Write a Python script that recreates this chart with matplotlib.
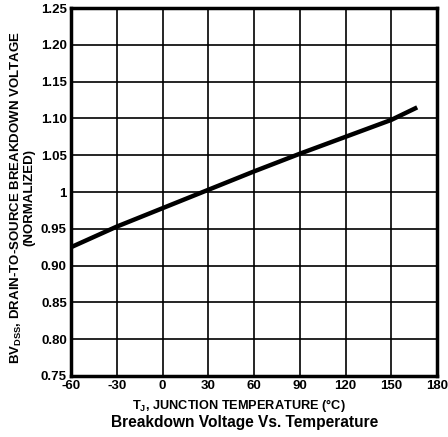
import matplotlib.pyplot as plt
import numpy as np

plt.rcParams['font.family'] = ['Liberation Sans', 'DejaVu Sans']
plt.rcParams['axes.unicode_minus'] = False
plt.rcParams['mathtext.fontset'] = 'custom'
plt.rcParams['mathtext.bf'] = 'Liberation Sans:bold'
plt.rcParams['mathtext.rm'] = 'Liberation Sans'

# curve
temps = [-60, -30, 0, 30, 60, 90, 120, 150, 167]
bv_norm = [0.925, 0.953, 0.978, 1.003, 1.028, 1.052, 1.075, 1.098, 1.115]

x_ticks = [-60, -30, 0, 30, 60, 90, 120, 150, 180]
y_ticks = [0.75, 0.80, 0.85, 0.90, 0.95, 1.0, 1.05, 1.10, 1.15, 1.20, 1.25]
y_labels = ['0.75', '0.80', '0.85', '0.90', '0.95', '1', '1.05', '1.10', '1.15', '1.20', '1.25']

fig = plt.figure(figsize=(4.48, 4.37), dpi=100)
ax = fig.add_axes([0.1585, 0.1396, 0.817, 0.842])

ax.plot(temps, bv_norm, color='black', lw=3.2, solid_capstyle='butt', zorder=3)

ax.set_xlim(-60, 180)
ax.set_ylim(0.75, 1.25)
ax.set_xticks(x_ticks)
ax.set_yticks(y_ticks)
ax.set_yticklabels(y_labels)
ax.grid(True, color='black', lw=1.2)
ax.tick_params(length=0, labelsize=9.5, pad=3)
for lab in ax.get_xticklabels() + ax.get_yticklabels():
    lab.set_fontweight('bold')
for s in ax.spines.values():
    s.set_linewidth(2.5)

fig.text(0.533, 0.071, r'T$_\mathbf{J}$, JUNCTION TEMPERATURE (°C)', fontsize=9.2,
         fontweight='bold', ha='center', va='center')
fig.text(0.049, 0.548,
         'BV$_{\\mathbf{DSS}}$, DRAIN-TO-SOURCE BREAKDOWN VOLTAGE\n(NORMALIZED)',
         fontsize=9.5, fontweight='bold', rotation=90, ha='center', va='center',
         multialignment='center', linespacing=0.95)
fig.text(0.545, 0.034, 'Breakdown Voltage Vs. Temperature', ha='center', va='center',
         fontsize=11.2, fontweight='bold')

fig.savefig('out.png', dpi=100)
